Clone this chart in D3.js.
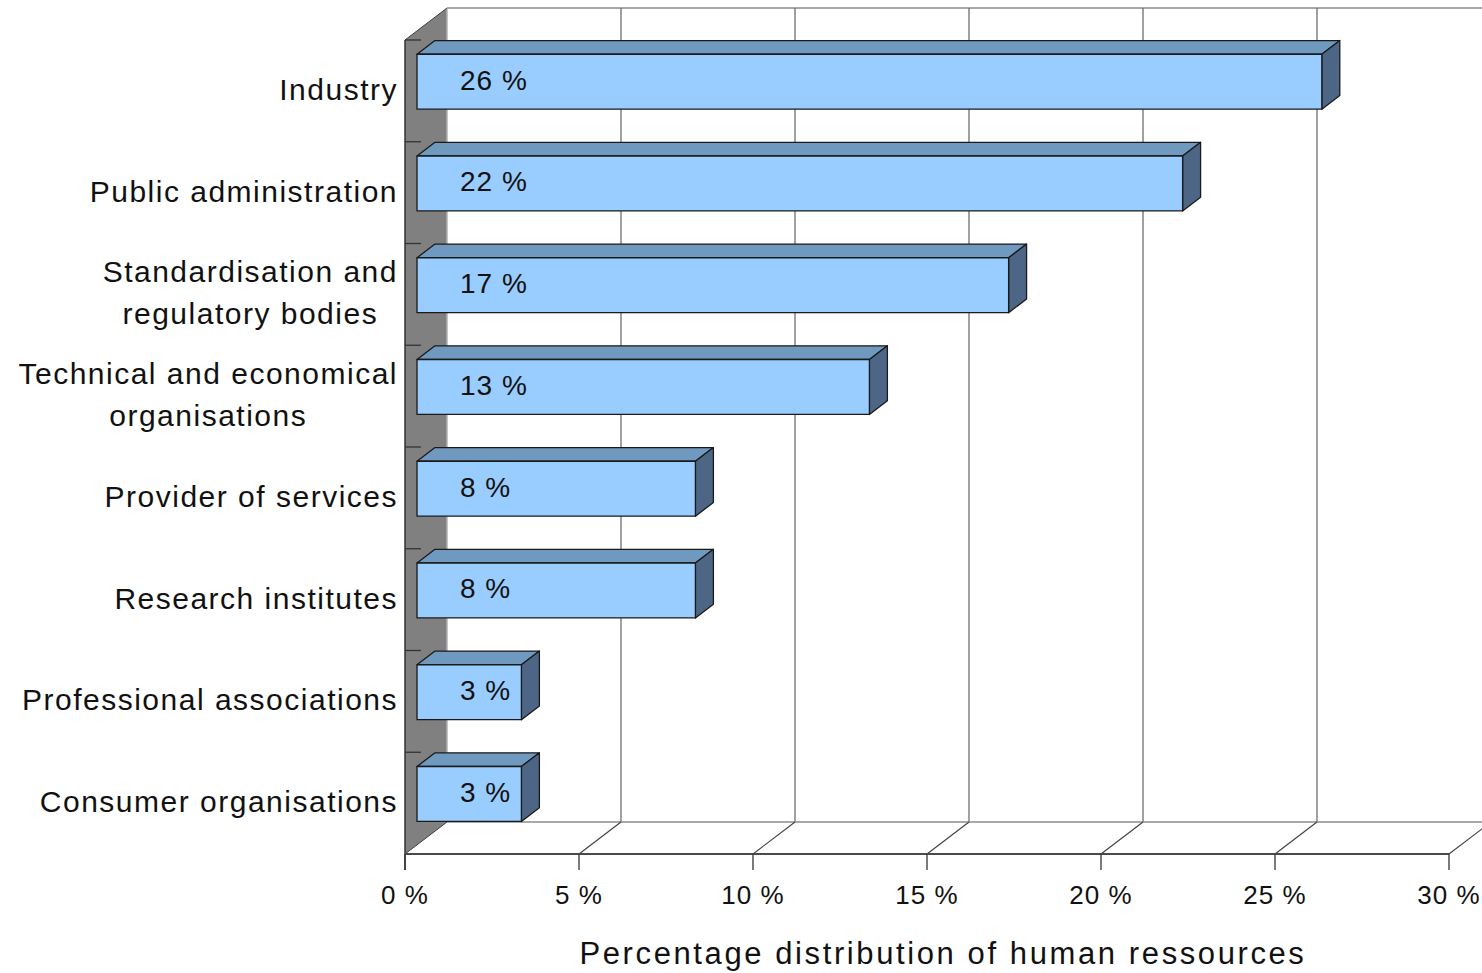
<!DOCTYPE html>
<html><head><meta charset="utf-8">
<script src="https://cdn.jsdelivr.net/npm/d3@7"></script>
<style>
html,body{margin:0;padding:0;background:#fff;}
svg{display:block;font-family:"Liberation Sans",Arial,sans-serif;}
</style></head>
<body>
<svg id="chart" width="1482" height="973"></svg>
<script>
const categories = ["Industry","Public administration","Standardisation and\nregulatory bodies","Technical and economical\norganisations","Provider of services","Research institutes","Professional associations","Consumer organisations"];
const values = [26,22,17,13,8,8,3,3];
const tickValues = [0,5,10,15,20,25,30];
const tickLabels = ["0 %","5 %","10 %","15 %","20 %","25 %","30 %"];
const axisTitle = "Percentage distribution of human ressources";

const svg = d3.select("#chart");
const X0 = 405, X1 = 1449, Y0 = 40, Y1 = 854;
const DX = 42, DY = -32; // full depth vector
const x = d3.scaleLinear().domain([0,30]).range([X0,X1]);
const y = d3.scaleBand().domain(categories).range([Y0,Y1]).paddingInner(0.46).paddingOuter(0.23);
const slot = d3.scaleBand().domain(categories).range([Y0,Y1]).padding(0);
const f1 = 0.286, f2 = 0.714;

// back wall
svg.append("line").attr("x1",X0+DX).attr("x2",1482).attr("y1",Y0+DY).attr("y2",Y0+DY).attr("stroke","#a6a6a6").attr("stroke-width",2);
tickValues.forEach(t=>{
  if(t===0) return;
  svg.append("line").attr("x1",x(t)+DX).attr("x2",x(t)+DX).attr("y1",Y0+DY).attr("y2",Y1+DY).attr("stroke","#6e6e6e").attr("stroke-width",1.3);
});
// floor
svg.append("line").attr("x1",X0+DX).attr("x2",1482).attr("y1",Y1+DY).attr("y2",Y1+DY).attr("stroke","#8c8c8c").attr("stroke-width",1.5);
tickValues.forEach(t=>{
  if(t===0) return;
  svg.append("line").attr("x1",x(t)).attr("y1",Y1).attr("x2",x(t)+DX).attr("y2",Y1+DY).attr("stroke","#404040").attr("stroke-width",1.1);
});
// left wall
svg.append("polygon").attr("points",[[X0,Y0],[X0+DX,Y0+DY],[X0+DX,Y1+DY],[X0,Y1]].map(p=>p.join(",")).join(" "))
  .attr("fill","#808080").attr("stroke","none");
svg.append("line").attr("x1",X0+DX).attr("x2",X0+DX).attr("y1",Y0+DY).attr("y2",Y1+DY).attr("stroke","#b0b0b0").attr("stroke-width",1.5);
svg.append("line").attr("x1",X0).attr("y1",Y0).attr("x2",X0+DX).attr("y2",Y0+DY).attr("stroke","#404040").attr("stroke-width",1);
svg.append("line").attr("x1",X0).attr("y1",Y1).attr("x2",X0+DX).attr("y2",Y1+DY).attr("stroke","#404040").attr("stroke-width",1);
svg.append("line").attr("x1",X0).attr("x2",X0).attr("y1",Y0).attr("y2",Y1+16).attr("stroke","#333").attr("stroke-width",1.5);
// category ticks on wall
categories.forEach(c=>{
  svg.append("line").attr("x1",X0).attr("x2",X0+16).attr("y1",slot(c)).attr("y2",slot(c)).attr("stroke","#333").attr("stroke-width",1.3);
});
// front floor line and x ticks
svg.append("line").attr("x1",X0).attr("x2",X1).attr("y1",Y1).attr("y2",Y1).attr("stroke","#4a4a4a").attr("stroke-width",2);
tickValues.forEach(t=>{
  svg.append("line").attr("x1",x(t)).attr("x2",x(t)).attr("y1",Y1).attr("y2",Y1+16).attr("stroke","#333").attr("stroke-width",1.3);
});
svg.selectAll(".tl").data(tickValues).enter().append("text")
  .attr("x",d=>x(d)).attr("y",904).attr("text-anchor","middle")
  .attr("font-size",26).attr("letter-spacing",1).attr("fill","#111")
  .text((d,i)=>tickLabels[i]);

// bars
const g = svg.append("g");
categories.forEach((c,i)=>{
  const v = values[i];
  const ax = x(0)+DX*f1, bx = x(v)+DX*f1;
  const ty = y(c)+DY*f1, by = ty + y.bandwidth();
  const ddx = DX*(f2-f1), ddy = DY*(f2-f1);
  const st = {"stroke":"#1a1a1a","stroke-width":1.3,"stroke-linejoin":"round"};
  const poly = (pts,fill)=>{const p=g.append("polygon").attr("points",pts.map(q=>q.join(",")).join(" ")).attr("fill",fill);Object.entries(st).forEach(([k,val])=>p.attr(k,val));};
  poly([[ax,ty],[ax+ddx,ty+ddy],[bx+ddx,ty+ddy],[bx,ty]],"#7099c0");
  poly([[bx,ty],[bx+ddx,ty+ddy],[bx+ddx,by+ddy],[bx,by]],"#4e6685");
  poly([[ax,ty],[bx,ty],[bx,by],[ax,by]],"#99ccff");
  g.append("text").attr("x",ax+43).attr("y",(ty+by)/2+8).attr("font-size",28).attr("letter-spacing",1)
   .attr("fill","#111").text(v+" %");
});

// category labels
categories.forEach(c=>{
  const lines = c.split("\n");
  const cy = slot(c)+slot.bandwidth()/2;
  const lh = 42;
  const texts = lines.map((ln,j)=>svg.append("text")
    .attr("y",cy + (j-(lines.length-1)/2)*lh + 9)
    .attr("font-size",30).attr("letter-spacing",1.5).attr("fill","#111").text(ln));
  const widths = texts.map(t=>t.node().getComputedTextLength());
  const mw = d3.max(widths);
  texts.forEach(t=>t.attr("x",398 - mw/2).attr("text-anchor","middle"));
});

// axis title
svg.append("text").attr("x",943).attr("y",964).attr("text-anchor","middle")
  .attr("font-size",31).attr("letter-spacing",2.6).attr("fill","#111").text(axisTitle);
</script>
</body></html>
